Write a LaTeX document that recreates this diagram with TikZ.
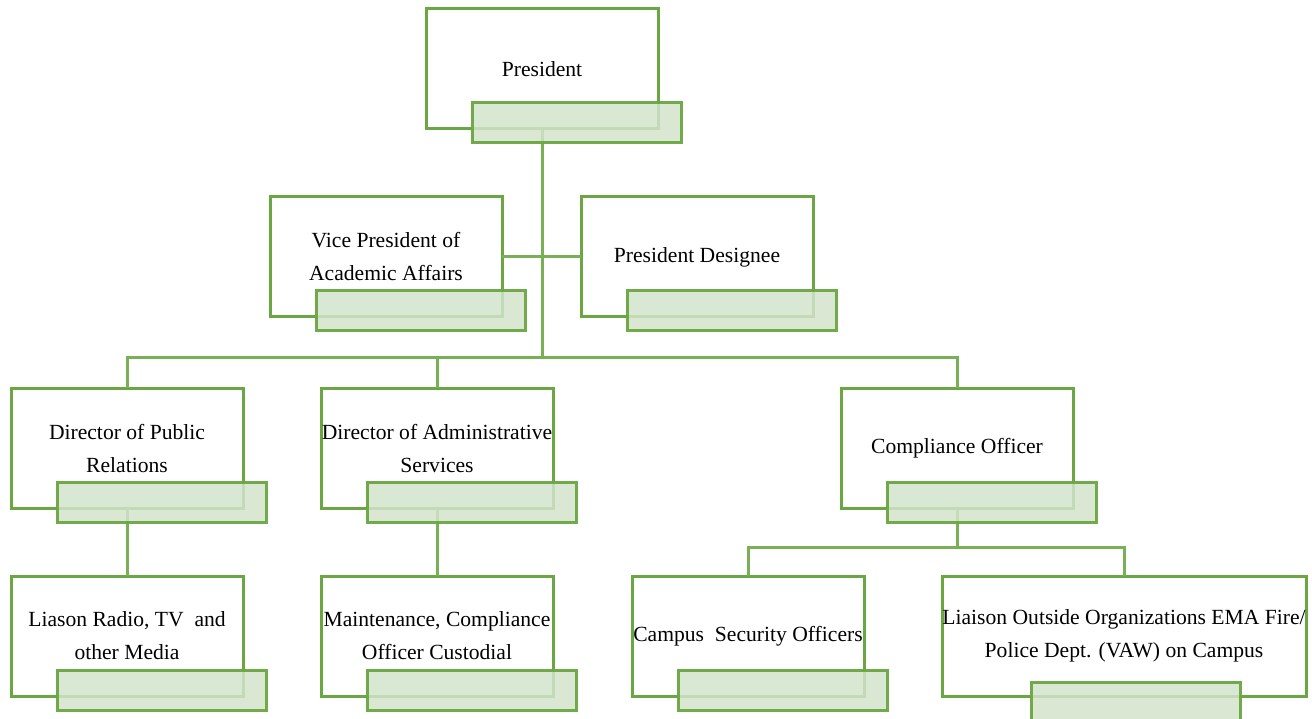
\documentclass[tikz,border=0pt]{standalone}
\usepackage{fontspec}
\setmainfont{Liberation Serif}
\usetikzlibrary{positioning}
\definecolor{leaf}{HTML}{6AA642}
\definecolor{leaftint}{HTML}{D3E4CB}

\begin{document}
\begin{tikzpicture}[x=1pt,y=-1pt,
  every node/.style={font=\fontsize{21.6}{33}\selectfont},
  unit/.style={draw=leaf,line width=3pt,fill=white,minimum width=232pt,minimum height=120pt,align=center,inner xsep=-10pt,inner ysep=2pt,outer sep=0pt},
  bar/.style={draw=leaf,line width=3pt,fill=leaftint,fill opacity=0.85,draw opacity=0.95,minimum width=209pt,minimum height=40pt,anchor=north west,inner sep=0pt,outer sep=0pt},
  link/.style={draw=leaf!90,line width=3pt}]
\useasboundingbox (0,0) rectangle (1312,719);
\node[unit] (pres) at (542,69) {President};
\node[unit] (vpaa) at (386,257) {Vice President of\\Academic Affairs};
\node[unit] (desig) at (697,257) {President Designee};
\node[unit] (dpr) at (127,448) {Director of Public\\Relations};
\node[unit] (das) at (437,448) {Director of Administrative\\Services};
\node[unit] (comp) at (957,448) {Compliance Officer};
\node[unit] (media) at (127,636) {Liason Radio, TV\ \ and\\other Media};
\node[unit] (maint) at (437,636) {Maintenance, Compliance\\Officer Custodial};
\node[unit] (secur) at (748,636) {Campus\ \ Security Officers};
\node[unit,minimum width=364pt] (liais) at (1124,636) {Liaison Outside Organizations EMA Fire/\\Police Dept. (VAW) on Campus};
\coordinate (bus) at (0,357); \coordinate (fork) at (0,547);
\draw[link] (vpaa.east) -- (desig.west);
\draw[link] (pres.south) -- (pres.south |- bus);
\draw[link] (dpr.north) -- (dpr.north |- bus) -- (comp.north |- bus) -- (comp.north);
\draw[link] (das.north) -- (das.north |- bus);
\draw[link] (dpr.south) -- (media.north); \draw[link] (das.south) -- (maint.north);
\draw[link] (comp.south) -- (comp.south |- fork);
\draw[link] (secur.north) -- (secur.north |- fork) -- (liais.north |- fork) -- (liais.north);
\foreach \n in {pres,vpaa,desig,dpr,das,comp,media,maint,secur}
  \node[bar] (\n bar) at ([xshift=46pt,yshift=26pt]\n.south west) {};
\node[bar] (liaisbar) at ([xshift=89pt,yshift=14pt]liais.south west) {};
\end{tikzpicture}
\end{document}
